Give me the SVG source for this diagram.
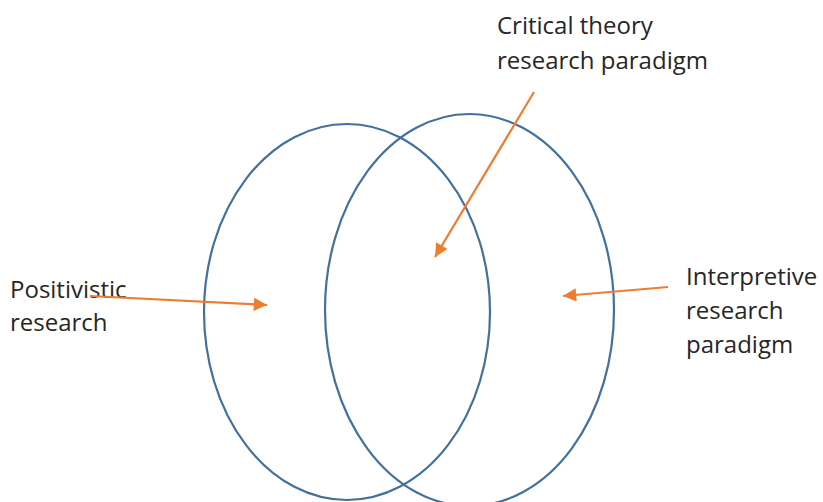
<svg xmlns="http://www.w3.org/2000/svg" width="823" height="502" viewBox="0 0 823 502">
<style>
.ring{fill:none;stroke:#41719C;stroke-width:2.2}
.lbl{font-family:"Open Sans","Liberation Sans",sans-serif;font-size:24px;fill:#262626}
.arr{stroke:#ED7D31;stroke-width:2.2;fill:none;marker-end:url(#ah)}
</style>
<defs>
<marker id="ah" viewBox="0 0 10 10" refX="10" refY="5" markerWidth="6.5" markerHeight="6" markerUnits="strokeWidth" orient="auto">
<path d="M0,0 L10,5 L0,10 z" fill="#ED7D31"/>
</marker>
</defs>
<rect width="823" height="502" fill="#ffffff"/>
<g id="positivistic-set"><ellipse class="ring" cx="347" cy="312" rx="143" ry="188"/></g>
<g id="interpretive-set"><ellipse class="ring" cx="469.5" cy="310" rx="144.5" ry="196"/></g>
<g id="label-positivistic"><text class="lbl" x="10" y="298">Positivistic</text><text class="lbl" x="10" y="331">research</text></g>
<g id="label-critical"><text class="lbl" x="497" y="34">Critical theory</text><text class="lbl" x="497" y="69">research paradigm</text></g>
<g id="label-interpretive"><text class="lbl" x="686" y="285">Interpretive</text><text class="lbl" x="686" y="319">research</text><text class="lbl" x="686" y="353">paradigm</text></g>
<g id="connectors">
<line class="arr" x1="90" y1="296" x2="267" y2="305"/>
<line class="arr" x1="534" y1="92" x2="435" y2="257"/>
<line class="arr" x1="668" y1="287" x2="563" y2="296"/>
</g>
</svg>
